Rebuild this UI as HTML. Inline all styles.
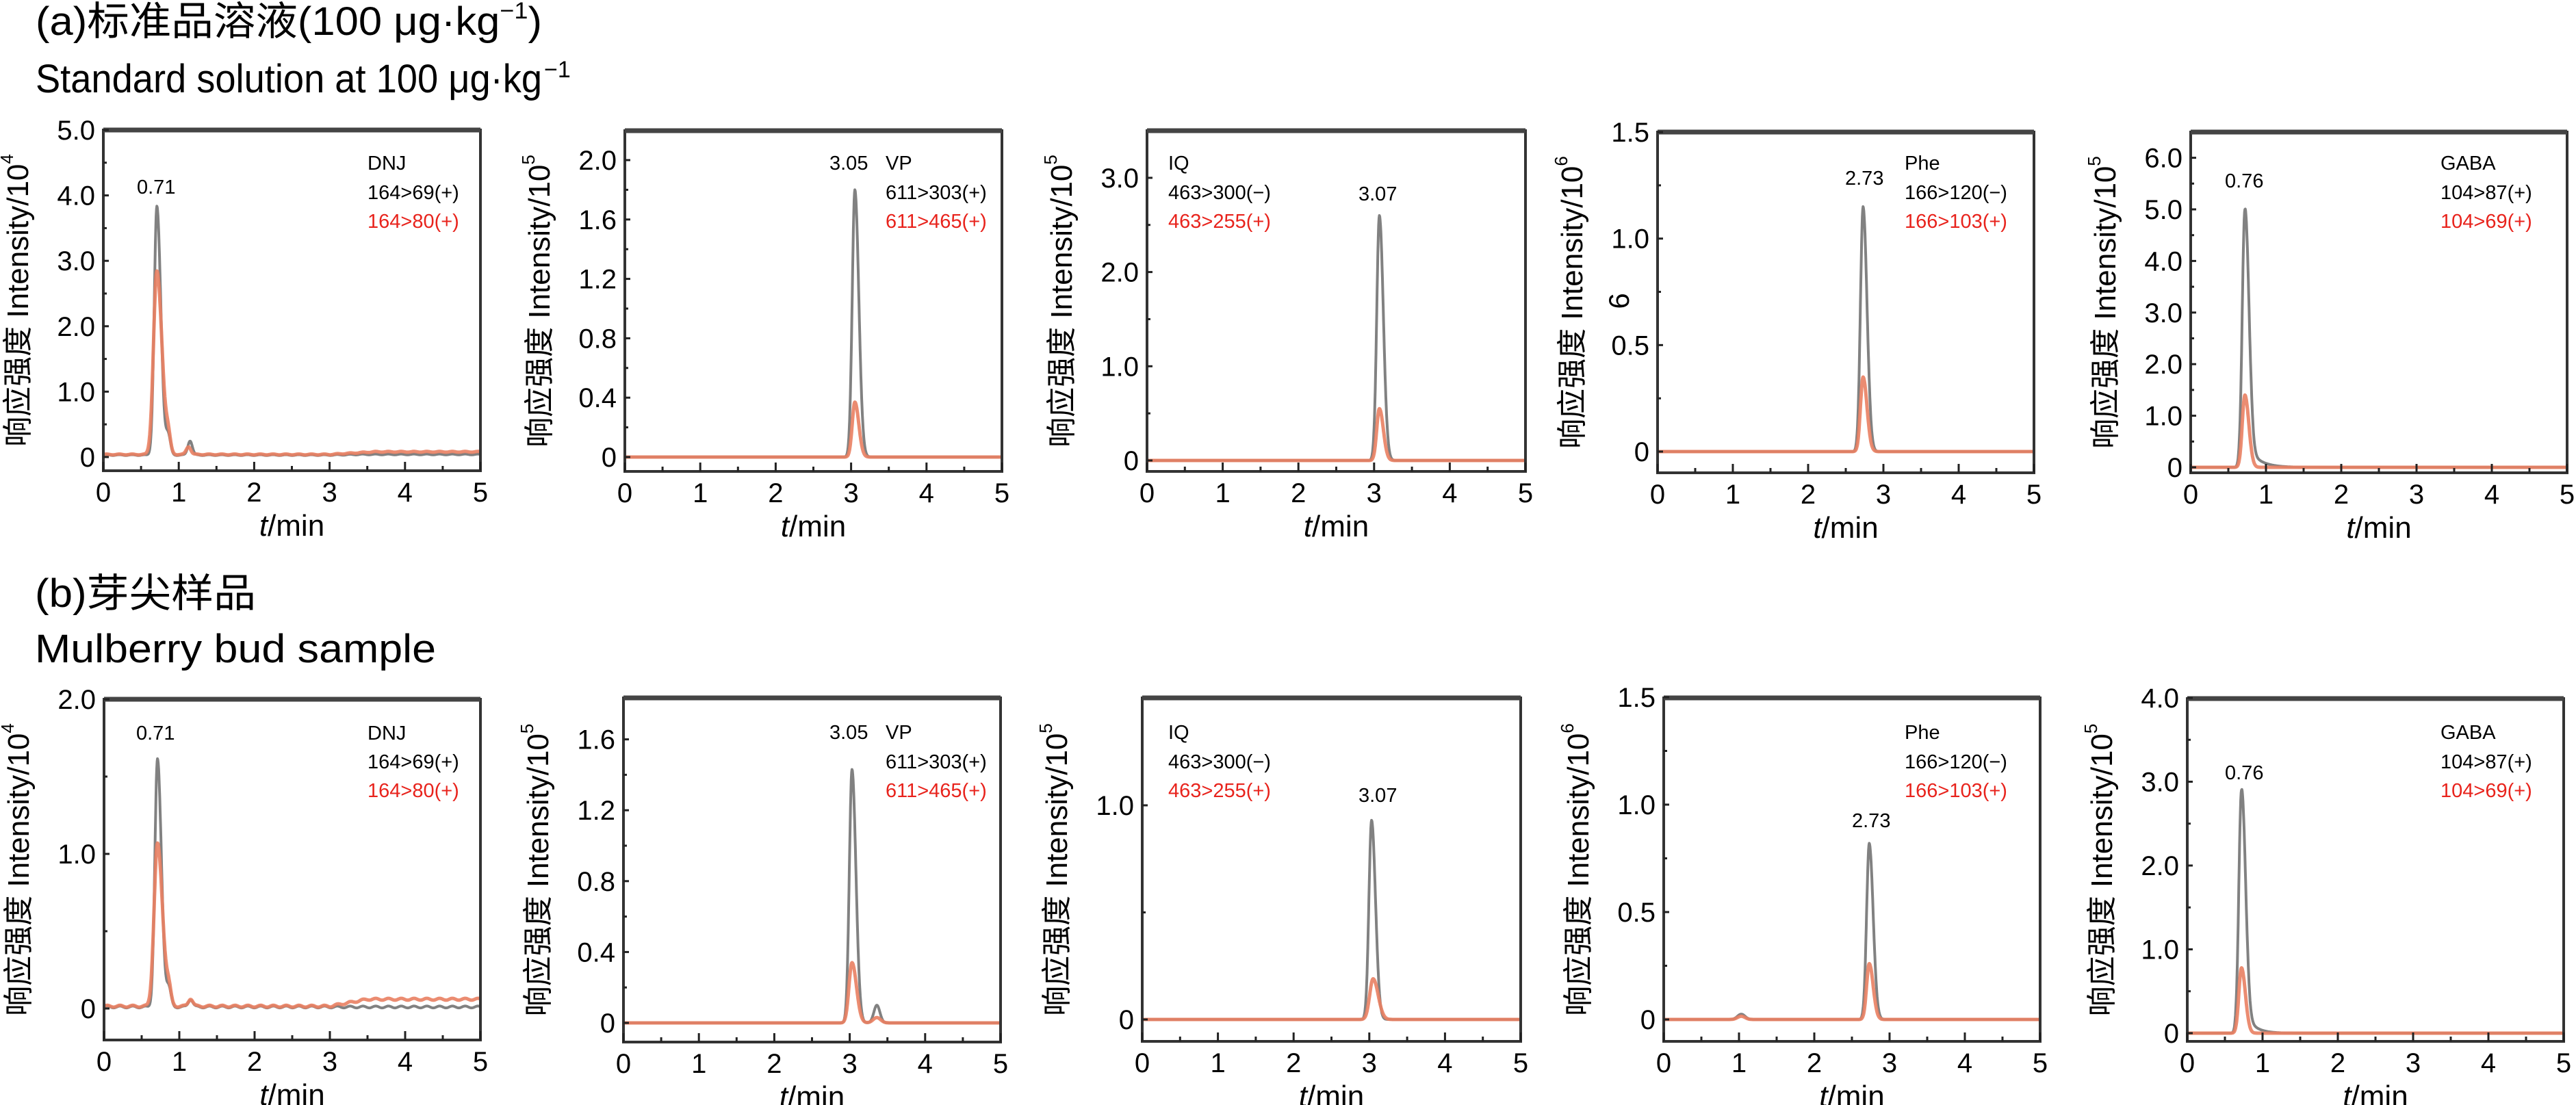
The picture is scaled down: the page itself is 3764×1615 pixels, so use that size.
<!DOCTYPE html>
<html><head><meta charset="utf-8"><style>
html,body{margin:0;padding:0;background:#fff;}
svg{display:block;font-family:"Liberation Sans","Noto Sans CJK SC",sans-serif;}
</style></head><body>
<svg id="s" width="3764" height="1615" viewBox="0 0 3764 1615" xmlns="http://www.w3.org/2000/svg">
<text x="52" y="51" font-size="58" textLength="740" lengthAdjust="spacingAndGlyphs">(a)标准品溶液(100 μg·kg<tspan dy="-24" font-size="34">−1</tspan><tspan dy="24">)</tspan></text>
<text x="52" y="135" font-size="58" textLength="740" lengthAdjust="spacingAndGlyphs">Standard solution at 100 μg·kg</text><text x="795" y="113" font-size="34">−1</text>
<text x="51" y="887" font-size="58" textLength="323" lengthAdjust="spacingAndGlyphs">(b)芽尖样品</text>
<text x="51" y="968" font-size="58" textLength="586" lengthAdjust="spacingAndGlyphs">Mulberry bud sample</text>
</svg>
<script>
var S=document.getElementById('s'),NS='http://www.w3.org/2000/svg';
function el(n,a,t){var e=document.createElementNS(NS,n);for(var k in a)e.setAttribute(k,a[k]);if(t!=null)e.textContent=t;S.appendChild(e);return e;}
function pk(t,t0,h,s,tail){if(t<t0)return h*Math.exp(-Math.pow(t-t0,2)/(2*s*s));var g=Math.exp(-Math.pow(t-t0,2)/(2*s*s*2.2));var e=0.5*tail*Math.exp(-(t-t0)/0.07);return h*Math.max(g,Math.min(e,g));}
function P(o){
 var x0=o.x0,x1=o.x1,y0=o.y0,y1=o.y1,w=x1-x0;
 function X(t){return x0+t/5*w;} function Y(v){return o.z-v*o.ppu;}
 ['g','o'].forEach(function(k){
  var d='',f=o[k];
  for(var i=0;i<=1000;i++){var t=i*0.005;var v=f(t);var yy=Math.max(y0+4,Y(v));d+=(i?'L':'M')+X(t).toFixed(1)+' '+yy.toFixed(1);}
  el('path',{d:d,fill:'none',stroke:k=='g'?'#7a7a7a':'#e97f62','stroke-width':k=='g'?4:5,'stroke-linejoin':'round','stroke-opacity':k=='g'?0.95:0.9});
 });
 el('rect',{x:x0,y:y0,width:w,height:y1-y0,fill:'none',stroke:'#333','stroke-width':4});
 el('line',{x1:x0,y1:y0,x2:x1,y2:y0,stroke:'#444','stroke-width':7});
 for(var i=0;i<=10;i++){var xx=X(i/2);el('line',{x1:xx,y1:y1,x2:xx,y2:y1-(i%2?7:13),stroke:'#222','stroke-width':3});}
 for(var i=0;i<=5;i++)el('text',{x:X(i),y:y1+45,'font-size':40,'text-anchor':'middle'},String(i));
 o.ticks.forEach(function(v,j){var yy=Y(v);el('line',{x1:x0,y1:yy,x2:x0+8,y2:yy,stroke:'#222','stroke-width':3});
   el('text',{x:x0-12,y:yy+14,'font-size':40,'text-anchor':'end'},v==0?'0':v.toFixed(1));
   if(j<o.ticks.length-1){var m=Y((v+o.ticks[j+1])/2);el('line',{x1:x0,y1:m,x2:x0+5,y2:m,stroke:'#222','stroke-width':3});}});
 var t=el('text',{x:(x0+x1)/2,y:y1+95,'font-size':44,'text-anchor':'middle'});
 var a=document.createElementNS(NS,'tspan');a.setAttribute('font-style','italic');a.textContent='t';t.appendChild(a);t.appendChild(document.createTextNode('/min'));
 var cy=(y0+y1)/2,lx=x0-110;
 var yl=el('text',{'font-size':44,'text-anchor':'middle',transform:'translate('+lx+','+cy+') rotate(-90)',x:0,y:0});
 yl.appendChild(document.createTextNode('响应强度 Intensity/10'));
 var sp=document.createElementNS(NS,'tspan');sp.setAttribute('dy','-22');sp.setAttribute('font-size','26');sp.textContent=o.e;yl.appendChild(sp);
 var L=o.leg;
 el('text',{x:L[0],y:L[1],'font-size':29},o.name);
 el('text',{x:L[2],y:L[3],'font-size':29},o.l1);
 el('text',{x:L[2],y:L[3]+42,'font-size':29,fill:'#e8231c'},o.l2);
 el('text',{x:o.pl[0],y:o.pl[1],'font-size':29},o.pt);
}
function mk(t0,h,s,tail,base,extra){return function(t){var v=base?base(t):0;v+=pk(t,t0,h,s,tail);if(extra)v+=extra(t);return v;};}
function bump(t0,h,s){return function(t){return h*Math.exp(-Math.pow(t-t0,2)/(2*s*s));};}
function b2(a,b){return function(t){return a(t)+b(t);};}
function ramp(a,b,t0,t1){return function(t){var f=Math.min(1,Math.max(0,(t-t0)/(t1-t0)));return a+(b-a)*f+0.006*Math.sin(t*37);};}
function rng(a,b,s){var r=[];for(var v=a;v<=b+1e-9;v+=s)r.push(Math.round(v*10)/10);return r;}
function gtail(a,d){return function(t){return t>0.72?a*Math.exp(-(t-0.72)/d)*Math.min(1,(t-0.72)/0.08):0;};}
// Row a
P({x0:151,x1:702,y0:190,y1:688,z:668,ppu:95.6,ticks:rng(0,5,1),e:'4',name:'DNJ',l1:'164>69(+)',l2:'164>80(+)',leg:[537,248,537,291],pl:[200,283],pt:'0.71',
 g:mk(0.71,3.8,0.035,0.9,ramp(0.03,0.04,3.0,3.4),b2(bump(0.86,0.3,0.03),bump(1.15,0.22,0.03))),
 o:mk(0.71,2.8,0.045,0.9,ramp(0.04,0.08,3.0,3.6),b2(bump(0.86,0.25,0.03),bump(1.13,0.12,0.03)))});
P({x0:913,x1:1464,y0:191,y1:689,z:668,ppu:217,ticks:rng(0,2,0.4),e:'5',name:'VP',l1:'611>303(+)',l2:'611>465(+)',leg:[1294,248,1294,291],pl:[1212,248],pt:'3.05',
 g:mk(3.05,1.8,0.035,0.5),o:mk(3.05,0.37,0.035,0.4)});
P({x0:1676,x1:2229,y0:191,y1:689,z:673,ppu:137.7,ticks:rng(0,3,1),e:'5',name:'IQ',l1:'463>300(−)',l2:'463>255(+)',leg:[1707,248,1707,291],pl:[1985,293],pt:'3.07',
 g:mk(3.07,2.6,0.035,0.5),o:mk(3.07,0.55,0.035,0.4)});
P({x0:2422,x1:2972,y0:193,y1:691,z:660,ppu:311.3,ticks:rng(0,1.5,0.5),e:'6',name:'Phe',l1:'166>120(−)',l2:'166>103(+)',leg:[2783,248,2783,291],pl:[2696,270],pt:'2.73',
 g:mk(2.73,1.15,0.035,0.3),o:mk(2.73,0.35,0.035,0.3)});
P({x0:3201,x1:3751,y0:193,y1:691,z:683,ppu:75.4,ticks:rng(0,6,1),e:'5',name:'GABA',l1:'104>87(+)',l2:'104>69(+)',leg:[3566,248,3566,291],pl:[3251,274],pt:'0.76',
 g:mk(0.72,5.0,0.035,0.8,null,gtail(0.5,0.15)),o:mk(0.72,1.4,0.035,0.5)});
// Row b
P({x0:152,x1:702,y0:1022,y1:1520,z:1474,ppu:226,ticks:rng(0,2,1),e:'4',name:'DNJ',l1:'164>69(+)',l2:'164>80(+)',leg:[537,1081,537,1123],pl:[199,1081],pt:'0.71',
 g:mk(0.71,1.6,0.035,0.7,ramp(0.01,0.01,3,3.5),b2(bump(0.86,0.12,0.03),bump(1.15,0.05,0.03))),
 o:mk(0.71,1.05,0.045,0.7,ramp(0.015,0.06,3.0,3.5),b2(bump(0.86,0.1,0.03),bump(1.15,0.05,0.03)))});
P({x0:911,x1:1462,y0:1020,y1:1523,z:1495,ppu:259,ticks:rng(0,1.6,0.4),e:'5',name:'VP',l1:'611>303(+)',l2:'611>465(+)',leg:[1294,1080,1294,1123],pl:[1212,1080],pt:'3.05',
 g:mk(3.03,1.43,0.035,0.5,null,bump(3.36,0.1,0.04)),o:mk(3.03,0.34,0.04,0.4,null,bump(3.36,0.03,0.05))});
P({x0:1669,x1:2222,y0:1020,y1:1522,z:1490,ppu:313,ticks:[0,1],e:'5',name:'IQ',l1:'463>300(−)',l2:'463>255(+)',leg:[1707,1080,1707,1123],pl:[1985,1172],pt:'3.07',
 g:mk(3.03,0.93,0.035,0.5),o:mk(3.05,0.19,0.045,0.4)});
P({x0:2431,x1:2981,y0:1020,y1:1522,z:1490,ppu:314,ticks:rng(0,1.5,0.5),e:'6',name:'Phe',l1:'166>120(−)',l2:'166>103(+)',leg:[2783,1080,2783,1123],pl:[2706,1209],pt:'2.73',
 g:mk(2.73,0.82,0.035,0.3,null,bump(1.03,0.025,0.05)),o:mk(2.73,0.26,0.035,0.3,null,bump(1.03,0.015,0.05))});
P({x0:3196,x1:3746,y0:1021,y1:1522,z:1510,ppu:122.5,ticks:rng(0,4,1),e:'5',name:'GABA',l1:'104>87(+)',l2:'104>69(+)',leg:[3566,1080,3566,1123],pl:[3251,1139],pt:'0.76',
 g:mk(0.72,2.9,0.035,0.8,null,gtail(0.35,0.12)),o:mk(0.72,0.78,0.035,0.5)});
el('text',{transform:'translate(2380,440) rotate(-90)','font-size':42,'text-anchor':'middle'},'6');
</script>
</body></html>
